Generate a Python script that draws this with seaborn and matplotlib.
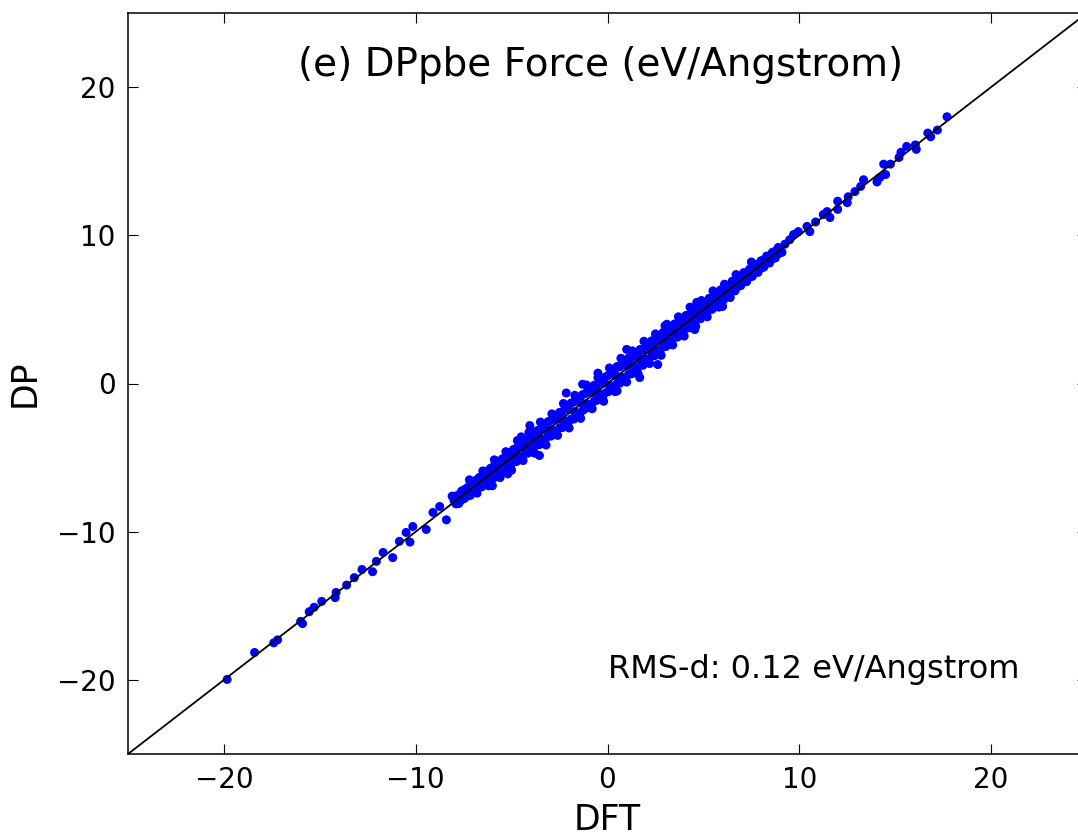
import numpy as np
import pandas as pd
import matplotlib
matplotlib.use("Agg")
import matplotlib.pyplot as plt
import seaborn as sns

# ---- data (DFT vs DP force components, eV/Angstrom) ----
upper_dft = [-7.9, -7.6, -7.3, -7.0, -6.7, -6.4, -6.1, -5.8, -5.5, -5.2, -4.9, -4.6, -4.3, -4.0,
             -3.7, -3.4, -3.1, -2.8, -2.5, -2.2, -1.9, -1.6, -1.3, -1.0, -0.7, -0.4, -0.1, 0.2,
             0.5, 0.8, 1.1, 1.4, 1.7, 2.0, 2.3, 2.6, 2.9, 3.2, 3.5, 3.8, 4.1, 4.4, 4.7, 5.0,
             5.3, 5.6, 5.9, 6.2, 6.5, 6.8, 7.1, 7.4, 7.7, 8.0, 8.3, 8.6, 8.9]
upper_dp = [-7.60, -7.25, -7.02, -6.60, -6.35, -5.98, -5.72, -5.35, -5.10, -4.70, -4.45, -4.08,
            -3.82, -3.45, -3.20, -2.82, -2.58, -2.20, -1.95, -1.58, -1.32, -1.00, -0.75, -0.35,
            -0.12, 0.22, 0.45, 0.80, 1.15, 1.38, 1.72, 1.95, 2.30, 2.52, 2.88, 3.10, 3.45, 3.68,
            4.02, 4.25, 4.60, 4.82, 5.18, 5.40, 5.75, 5.98, 6.32, 6.55, 6.90, 7.12, 7.48, 7.70,
            8.03, 8.28, 8.60, 8.85, 9.18]

upmid_dft = [-7.75, -7.45, -7.15, -6.85, -6.55, -6.25, -5.95, -5.65, -5.35, -5.05, -4.75, -4.45,
             -4.15, -3.85, -3.55, -3.25, -2.95, -2.65, -2.35, -2.05, -1.75, -1.45, -1.15, -0.85,
             -0.55, -0.25, 0.05, 0.35, 0.65, 0.95, 1.25, 1.55, 1.85, 2.15, 2.45, 2.75, 3.05,
             3.35, 3.65, 3.95, 4.25, 4.55, 4.85, 5.15, 5.45, 5.75, 6.05, 6.35, 6.65, 6.95, 7.25,
             7.55, 7.85, 8.15, 8.45, 8.75]
upmid_dp = [-7.50, -7.15, -6.87, -6.53, -6.25, -5.90, -5.62, -5.27, -5.00, -4.65, -4.37, -4.03,
            -3.75, -3.40, -3.13, -2.77, -2.50, -2.15, -1.90, -1.57, -1.25, -1.00, -0.67, -0.35,
            -0.10, 0.23, 0.55, 0.80, 1.13, 1.37, 1.70, 1.95, 2.27, 2.53, 2.85, 3.10, 3.43, 3.68,
            4.00, 4.25, 4.58, 4.85, 5.13, 5.45, 5.71, 6.03, 6.30, 6.61, 6.87, 7.19, 7.45, 7.77,
            8.03, 8.35, 8.61, 8.93]

middle_dft = [-8.0, -7.7, -7.4, -7.1, -6.8, -6.5, -6.2, -5.9, -5.6, -5.3, -5.0, -4.7, -4.4, -4.1,
              -3.8, -3.5, -3.2, -2.9, -2.6, -2.3, -2.0, -1.7, -1.4, -1.1, -0.8, -0.5, -0.2, 0.1,
              0.4, 0.7, 1.0, 1.3, 1.6, 1.9, 2.2, 2.5, 2.8, 3.1, 3.4, 3.7, 4.0, 4.3, 4.6, 4.9,
              5.2, 5.5, 5.8, 6.1, 6.4, 6.7, 7.0, 7.3, 7.6, 7.9, 8.2, 8.5, 8.8]
middle_dp = [-7.90, -7.82, -7.25, -7.18, -6.68, -6.65, -6.12, -6.08, -5.40, -5.40, -4.85, -4.90,
             -4.22, -4.22, -3.58, -3.68, -3.10, -3.12, -2.40, -2.45, -1.75, -1.90, -1.28, -1.35,
             -0.62, -0.60, 0.02, -0.10, 0.55, 0.45, 1.20, 1.18, 1.78, 1.68, 2.30, 2.32, 3.02,
             2.95, 3.52, 3.50, 4.18, 4.20, 4.75, 4.72, 5.30, 5.35, 5.92, 6.02, 6.55, 6.58, 7.10,
             7.15, 7.68, 7.80, 8.32, 8.42, 8.90]

lowmid_dft = [-7.9, -7.6, -7.3, -7.0, -6.7, -6.4, -6.1, -5.8, -5.5, -5.2, -4.9, -4.6, -4.3, -4.0,
              -3.7, -3.4, -3.1, -2.8, -2.5, -2.2, -1.9, -1.6, -1.3, -1.0, -0.7, -0.4, -0.1, 0.2,
              0.5, 0.8, 1.1, 1.4, 1.7, 2.0, 2.3, 2.6, 2.9, 3.2, 3.5, 3.8, 4.1, 4.4, 4.7, 5.0,
              5.3, 5.6, 5.9, 6.2, 6.5, 6.8, 7.1, 7.4, 7.7, 8.0, 8.3, 8.6, 8.9]
lowmid_dp = [-8.12, -7.85, -7.58, -7.25, -7.00, -6.72, -6.40, -6.15, -5.88, -5.55, -5.30, -5.02,
             -4.70, -4.45, -4.12, -3.88, -3.55, -3.30, -2.98, -2.72, -2.40, -2.05, -1.82, -1.48,
             -1.20, -0.85, -0.62, -0.28, 0.00, 0.35, 0.62, 0.98, 1.25, 1.60, 1.88, 2.22, 2.50,
             2.85, 3.12, 3.47, 3.75, 4.10, 4.37, 4.70, 5.02, 5.30, 5.64, 5.92, 6.26, 6.55, 6.88,
             7.16, 7.50, 7.78, 8.12, 8.40, 8.74]

lower_dft = [-7.75, -7.45, -7.15, -6.85, -6.55, -6.25, -5.95, -5.65, -5.35, -5.05, -4.75, -4.45,
             -4.15, -3.85, -3.55, -3.25, -2.95, -2.65, -2.35, -2.05, -1.75, -1.45, -1.15, -0.85,
             -0.55, -0.25, 0.05, 0.35, 0.65, 0.95, 1.25, 1.55, 1.85, 2.15, 2.45, 2.75, 3.05,
             3.35, 3.65, 3.95, 4.25, 4.55, 4.85, 5.15, 5.45, 5.75, 6.05, 6.35, 6.65, 6.95, 7.25,
             7.55, 7.85, 8.15, 8.45, 8.75]
lower_dp = [-8.10, -7.75, -7.55, -7.20, -6.97, -6.63, -6.40, -6.05, -5.83, -5.50, -5.27, -4.93,
            -4.70, -4.35, -4.13, -3.77, -3.55, -3.20, -2.97, -2.63, -2.40, -2.05, -1.70, -1.47,
            -1.13, -0.90, -0.55, -0.20, 0.03, 0.37, 0.65, 1.00, 1.23, 1.63, 1.87, 2.25, 2.50,
            2.85, 3.13, 3.50, 3.75, 4.10, 4.37, 4.75, 5.00, 5.35, 5.63, 5.97, 6.25, 6.60, 6.87,
            7.23, 7.50, 7.85, 8.13, 8.47]

edge_hi_dft = [-6.5, -5.9, -5.3, -4.7, -4.1, -3.5, -2.9, -2.3, -1.7, -1.1, -0.5, 0.1, 0.7, 1.3,
               1.9, 2.5, 3.1, 3.7, 4.3, 4.9, 5.5, 6.1, 6.7]
edge_hi_dp = [-5.90, -5.15, -4.60, -3.85, -3.30, -2.60, -2.05, -1.35, -0.80, -0.10, 0.40, 1.05,
              1.70, 2.20, 2.85, 3.35, 4.00, 4.50, 5.15, 5.60, 6.25, 6.70, 7.35]

edge_lo_dft = [-6.8, -6.2, -5.6, -5.0, -4.4, -3.8, -3.2, -2.6, -2.0, -1.4, -0.8, -0.2, 0.4, 1.0,
               1.6, 2.2, 2.8, 3.4, 4.0, 4.6, 5.2, 5.8, 6.4]
edge_lo_dp = [-7.40, -6.90, -6.35, -5.85, -5.20, -4.70, -4.15, -3.50, -3.00, -2.35, -1.70, -1.20,
              -0.55, 0.10, 0.65, 1.35, 1.90, 2.60, 3.20, 3.85, 4.50, 5.15, 5.80]

outlier_dft = [-2.15, -1.30, -4.05, -3.55, 1.68, 2.62, 4.55, 1.00, 4.65, -6.0, -5.2, -4.5,
               3.0, 6.0, 7.5, -7.2, 0.5, -0.5]
outlier_dp = [-0.64, -0.05, -2.84, -4.86, 0.40, 1.28, 3.64, 2.30, 5.47, -6.9, -6.1, -3.6,
              3.9, 5.2, 8.2, -6.5, -0.5, 0.7]

tail_dft = [-19.83, -18.4, -17.4, -17.2, -16.0, -15.9, -15.55, -15.3, -14.9, -14.2, -14.15,
            -13.6, -13.2, -12.8, -12.25, -12.05, -11.7, -11.2, -10.85, -10.5, -10.15, -10.3,
            -9.45, -9.1, -8.4, -8.75, -8.1,
            17.7, 17.2, 16.7, 16.85, 16.05, 15.6, 16.1, 15.3, 15.2, 14.4, 14.75, 14.5, 14.05,
            14.2, 13.35, 13.2, 12.9, 12.55, 12.5, 12.0, 12.0, 11.45, 11.25, 11.6, 10.85, 10.4,
            10.55, 9.95, 9.7, 9.5, 9.25, 9.1]
tail_dp = [-19.97, -18.15, -17.5, -17.3, -16.05, -16.2, -15.4, -15.1, -14.7, -14.45, -14.1,
           -13.6, -13.1, -12.55, -12.7, -12.0, -11.4, -11.75, -10.65, -10.05, -9.65, -10.7,
           -9.85, -8.7, -9.2, -8.3, -7.6,
           18.0, 17.1, 16.9, 16.65, 16.1, 16.0, 15.8, 15.6, 15.25, 14.8, 14.8, 14.1, 13.6,
           13.9, 13.75, 13.3, 12.95, 12.6, 12.2, 12.3, 11.75, 11.6, 11.4, 11.2, 10.9, 10.6,
           10.25, 10.25, 10.05, 9.7, 9.4, 8.85]

diag = [-25, 25]
ticks = [-20, -10, 0, 10, 20]
title_text = "(e) DPpbe Force (eV/Angstrom)"
rms_text = "RMS-d: 0.12 eV/Angstrom"

df = pd.DataFrame({
    "DFT": (upper_dft + upmid_dft + middle_dft + lowmid_dft + lower_dft + edge_hi_dft
            + edge_lo_dft + outlier_dft + tail_dft),
    "DP": (upper_dp + upmid_dp + middle_dp + lowmid_dp + lower_dp + edge_hi_dp
           + edge_lo_dp + outlier_dp + tail_dp),
})

sns.set_theme(style="white")
plt.rcParams["font.family"] = ["DejaVu Sans"]

fig = plt.figure(figsize=(10.78, 8.39), dpi=100)
ax = fig.add_axes([128 / 1078, 85 / 839, 959 / 1078, 741 / 839])

sns.scatterplot(data=df, x="DFT", y="DP", ax=ax, color="#0000ff", s=42,
                linewidth=0, edgecolor="none", zorder=2, legend=False)
sns.lineplot(x=diag, y=diag, ax=ax, color="black", linewidth=1.3, zorder=3)

ax.set_xlim(-25, 25)
ax.set_ylim(-25, 25)
ax.set_xticks(ticks)
ax.set_yticks(ticks)
ax.set_xticklabels(["\u2212" + str(-t) if t < 0 else str(t) for t in ticks])
ax.set_yticklabels(["\u2212" + str(-t) if t < 0 else str(t) for t in ticks])
ax.tick_params(direction="in", length=7, width=0.8, top=True, right=True,
               bottom=True, left=True, labelsize=20, colors="black", pad=9)
for sp in ax.spines.values():
    sp.set_color("black")
    sp.set_linewidth(1.1)

ax.set_xlabel("DFT", fontsize=25, color="black", labelpad=6)
ax.set_ylabel("DP", fontsize=25, color="black", labelpad=11)

ax.text(-0.35, 21.5, title_text, ha="center", va="center", fontsize=28, color="black")
ax.text(0.0, -19.3, rms_text, ha="left", va="center", fontsize=23, color="black")

fig.savefig("out.png", dpi=100)
